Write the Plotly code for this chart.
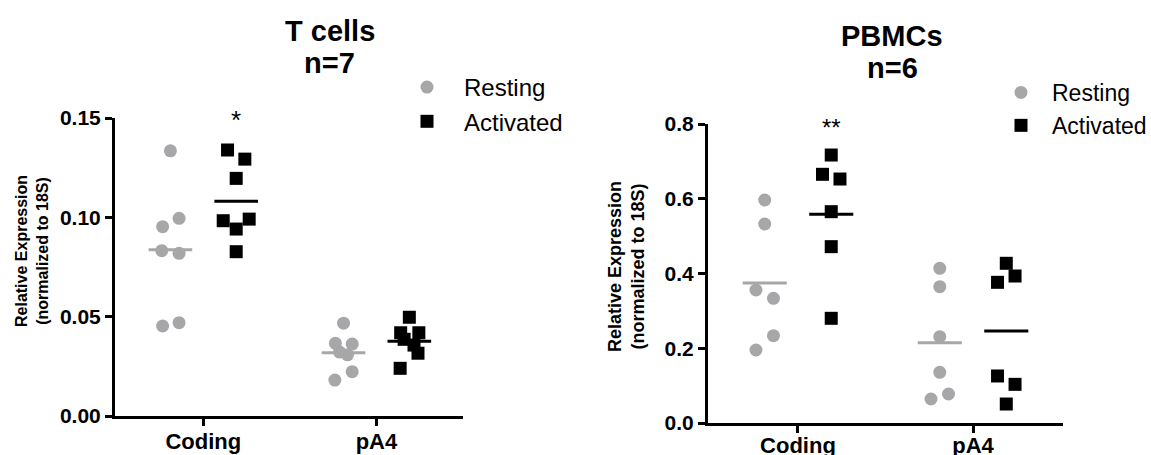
import numpy as np
import plotly.graph_objects as go

W, H = 1151, 455
FONT = "Liberation Sans, Arial, sans-serif"

categories = ["Coding", "pA4"]
series = ["Resting", "Activated"]
series_offset = {"Resting": -0.19, "Activated": 0.19}
mean_half_width = 0.126

# ---------------- T cells (n=7) ----------------
t_coding_resting = [0.1335, 0.0995, 0.0953, 0.0832, 0.0819, 0.0470, 0.0453]
t_coding_resting_jit = [0.0, 0.05, -0.045, -0.05, 0.05, 0.05, -0.045]
t_coding_activated = [0.1339, 0.1293, 0.1196, 0.0983, 0.0991, 0.0941, 0.0827]
t_coding_activated_jit = [-0.05, 0.05, 0.0, -0.075, 0.075, 0.0, 0.0]
t_pa4_resting = [0.0467, 0.0366, 0.0362, 0.0322, 0.0308, 0.0223, 0.0181]
t_pa4_resting_jit = [0.0, -0.047, 0.05, -0.023, 0.023, 0.05, -0.05]
t_pa4_activated = [0.0497, 0.0419, 0.0419, 0.0386, 0.0357, 0.0316, 0.0240]
t_pa4_activated_jit = [0.0, -0.05, 0.055, -0.03, 0.027, 0.05, -0.053]

# ---------------- PBMCs (n=6) ----------------
p_coding_resting = [0.5967, 0.5324, 0.3559, 0.3336, 0.2336, 0.1953]
p_coding_resting_jit = [0.0, 0.0, -0.05, 0.05, 0.05, -0.05]
p_coding_activated = [0.7170, 0.6654, 0.6528, 0.5654, 0.4718, 0.2801]
p_coding_activated_jit = [0.0, -0.05, 0.05, 0.0, 0.0, 0.0]
p_pa4_resting = [0.4138, 0.3648, 0.2310, 0.1356, 0.0776, 0.0642]
p_pa4_resting_jit = [0.0, 0.0, 0.0, 0.0, 0.05, -0.05]
p_pa4_activated = [0.4273, 0.3933, 0.3764, 0.1258, 0.1034, 0.0508]
p_pa4_activated_jit = [0.0, 0.05, -0.05, -0.05, 0.05, 0.0]

t_ticks = [0.0, 0.05, 0.10, 0.15]
p_ticks = [0.0, 0.2, 0.4, 0.6, 0.8]

panels = [
    dict(xa="x", ya="y", legend="legend",
         data={("Coding", "Resting"): (t_coding_resting, t_coding_resting_jit),
               ("Coding", "Activated"): (t_coding_activated, t_coding_activated_jit),
               ("pA4", "Resting"): (t_pa4_resting, t_pa4_resting_jit),
               ("pA4", "Activated"): (t_pa4_activated, t_pa4_activated_jit)}),
    dict(xa="x2", ya="y2", legend="legend2",
         data={("Coding", "Resting"): (p_coding_resting, p_coding_resting_jit),
               ("Coding", "Activated"): (p_coding_activated, p_coding_activated_jit),
               ("pA4", "Resting"): (p_pa4_resting, p_pa4_resting_jit),
               ("pA4", "Activated"): (p_pa4_activated, p_pa4_activated_jit)}),
]

style = {
    "Resting": dict(symbol="circle", color="#a7a7a9", size=13),
    "Activated": dict(symbol="square", color="#000000", size=13),
}

fig = go.Figure()
for p in panels:
    for s in series:
        xs, ys = [], []
        for ci, c in enumerate(categories):
            vals, jit = p["data"][(c, s)]
            base = ci + 1 + series_offset[s]
            xs += [base + j for j in jit]
            ys += list(vals)
        st = style[s]
        fig.add_trace(go.Scatter(
            x=xs, y=ys, mode="markers", name=s,
            xaxis=p["xa"], yaxis=p["ya"], legend=p["legend"],
            legendgroup=p["legend"] + s,
            marker=dict(symbol=st["symbol"], color=st["color"], size=st["size"], line=dict(width=0)),
            showlegend=True, cliponaxis=False,
        ))
    for s in series:
        for ci, c in enumerate(categories):
            vals, _ = p["data"][(c, s)]
            m = float(np.mean(vals))
            base = ci + 1 + series_offset[s]
            fig.add_trace(go.Scatter(
                x=[base - mean_half_width, base + mean_half_width], y=[m, m],
                mode="lines", xaxis=p["xa"], yaxis=p["ya"], showlegend=False,
                line=dict(color=style[s]["color"], width=3), cliponaxis=False,
                hoverinfo="skip",
            ))

def py(pix):
    return 1 - pix / H

axis_common = dict(showline=True, linewidth=3, linecolor="black", ticks="outside",
                   ticklen=7, tickwidth=3, tickcolor="black", showgrid=False, zeroline=False,
                   automargin=False,
                   tickfont=dict(family=FONT, size=21, color="black", weight="bold"))
xfont = dict(family=FONT, size=22, color="black", weight="bold")

fig.update_layout(
    width=W, height=H, margin=dict(l=0, r=0, t=0, b=0, autoexpand=False),
    paper_bgcolor="white", plot_bgcolor="white",
    font=dict(family=FONT, color="black"),
    xaxis=dict(domain=[115 / W, 463 / W], range=[0.49, 2.50], anchor="y",
               tickvals=[1, 2], ticktext=categories, ticklabelstandoff=-3,
               **{**axis_common, "tickfont": xfont}),
    yaxis=dict(domain=[py(416), py(118)], range=[0, 0.15], anchor="x",
               tickvals=t_ticks, tickformat=".2f", **axis_common),
    xaxis2=dict(domain=[708 / W, 1063 / W], range=[0.486, 2.514], anchor="y2",
                tickvals=[1, 2], ticktext=categories, ticklabelstandoff=-6,
                **{**axis_common, "tickfont": xfont}),
    yaxis2=dict(domain=[py(423), py(124)], range=[0, 0.8], anchor="x2",
                tickvals=p_ticks, tickformat=".1f", **axis_common),
    legend=dict(x=390 / W, y=py(65), xanchor="left", yanchor="top",
                font=dict(family=FONT, size=24, color="black"),
                bgcolor="rgba(0,0,0,0)", tracegroupgap=0, itemwidth=64),
    legend2=dict(x=990 / W, y=py(71), xanchor="left", yanchor="top",
                 font=dict(family=FONT, size=23, color="black"),
                 bgcolor="rgba(0,0,0,0)", tracegroupgap=0, itemwidth=52),
)

ann = [
    dict(text="<b>T cells</b>", x=330 / W, y=py(31), size=29),
    dict(text="<b>n=7</b>", x=330 / W, y=py(63), size=29),
    dict(text="<b>PBMCs</b>", x=892 / W, y=py(36), size=29),
    dict(text="<b>n=6</b>", x=892 / W, y=py(68), size=29),
]
for a in ann:
    fig.add_annotation(text=a["text"], x=a["x"], y=a["y"], xref="paper", yref="paper",
                       xanchor="center", yanchor="middle", showarrow=False,
                       font=dict(family=FONT, size=a["size"], color="black"))

# y-axis titles
fig.add_annotation(text="<b>Relative Expression<br>(normalized to 18S)</b>", x=32 / W, y=py(251),
                   xref="paper", yref="paper", textangle=-90, showarrow=False,
                   xanchor="center", yanchor="middle",
                   font=dict(family=FONT, size=16, color="black"))
fig.add_annotation(text="<b>Relative Expression<br>(normalized to 18S)</b>", x=626 / W, y=py(267),
                   xref="paper", yref="paper", textangle=-90, showarrow=False,
                   xanchor="center", yanchor="middle",
                   font=dict(family=FONT, size=18, color="black"))

# significance marks
fig.add_annotation(text="*", x=1 + series_offset["Activated"], y=0.15, yshift=-2, xref="x", yref="y",
                   showarrow=False, yanchor="middle", font=dict(family=FONT, size=26, color="black"))
fig.add_annotation(text="**", x=1 + series_offset["Activated"], y=0.79, xref="x2", yref="y2",
                   showarrow=False, yanchor="middle", font=dict(family=FONT, size=24, color="black"))

fig.write_html("out.html", config={"displayModeBar": False},
               post_script="document.body.style.margin='0px';")
